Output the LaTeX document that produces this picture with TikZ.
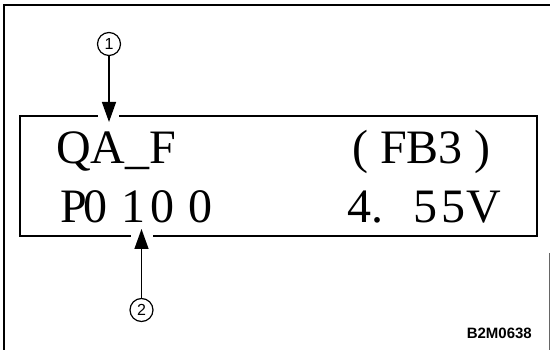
\documentclass[tikz,border=0pt]{standalone}
\usepackage{fontspec}
\setmainfont{Liberation Serif}
\newfontfamily\labelsans{Liberation Sans}
\usetikzlibrary{arrows.meta}
\tikzset{
  frameline/.style={line width=1.4pt},
  displaybox/.style={draw, line width=1.8pt, minimum width=517pt, minimum height=120pt, inner sep=0pt},
  gapline/.style={white, line width=4pt},
  callout/.style={draw, circle, line width=1.2pt, minimum size=23pt, inner sep=0pt, font=\labelsans\fontsize{16}{16}\selectfont},
  pointer/.style={line width=1.4pt, -{Triangle[length=20pt,width=14pt]}},
  lcd/.style={anchor=base west, inner sep=0pt, font=\fontsize{48}{50}\selectfont},
  figid/.style={anchor=base east, inner sep=0pt, font=\labelsans\bfseries\fontsize{15}{15}\selectfont}
}
\begin{document}
\begin{tikzpicture}[x=1pt,y=-1pt]
\useasboundingbox (0,0) rectangle (550,350);
% outer frame
\coordinate (fl1) at (4,350);
\coordinate (fl2) at (4,5);
\coordinate (fl3) at (550,5);
\coordinate (fr1) at (549,253);
\coordinate (fr2) at (549,350);
\draw[frameline] (fl1) -- (fl2) -- (fl3);
\draw[line width=0.6pt, black!60] (fr1) -- (fr2);
% display box
\node[displaybox] (disp) at (278.5,176) {};
% gaps in the box edges around arrowheads
\coordinate (g1a) at (98,116);
\coordinate (g1b) at (119,116);
\coordinate (g2a) at (131,236);
\coordinate (g2b) at (153,236);
\draw[gapline] (g1a) -- (g1b);
\draw[gapline] (g2a) -- (g2b);
% texts
\node[lcd] (t1) at (56,164) {QA\_F};
\node[lcd] (t2) at (352,164) {( FB3 )};
\node[lcd] (t3) at (60,223) {P\kern-3pt 0\kern14pt 1\kern5pt 0\kern14pt 0};
\node[lcd] (t4) at (347,223) {4.\kern30pt 5\kern4pt 5\kern1pt V};
\node[figid] (fid) at (532,339) {B2M0638};
% callouts
\node[callout] (c1) at (109,44) {1};
\node[callout] (c2) at (141.5,310) {2};
\coordinate (tip1) at (109,122);
\coordinate (tip2) at (141.5,229);
\draw[pointer] (c1.south) -- (tip1);
\draw[pointer] (c2.north) -- (tip2);
\end{tikzpicture}
\end{document}
